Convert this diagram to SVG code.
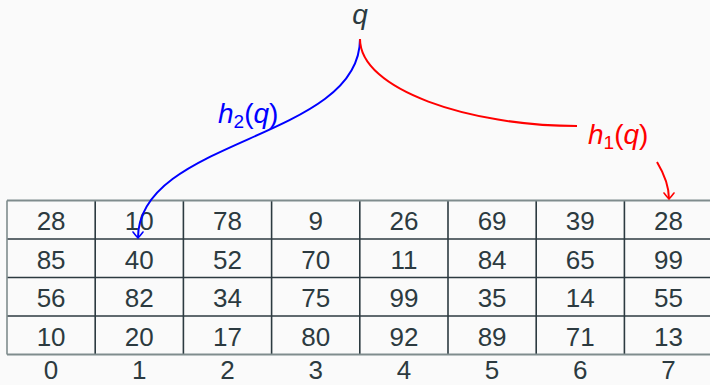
<svg xmlns="http://www.w3.org/2000/svg" width="710" height="385" viewBox="0 0 710 385">
<defs>
<style>
.num{font-family:"Liberation Sans",Arial,sans-serif;font-size:26px;fill:#2c3a40;text-anchor:middle}
.math{font-family:"Liberation Sans",Arial,sans-serif;font-size:28px}
.it{font-style:italic}
.sub{font-size:19px}
.hline{stroke:#2c3a40;stroke-width:1.3}
.border{stroke:#7f8c8d;stroke-width:2}
.vline{stroke:#2c3a40;stroke-width:1.6}
.conn{fill:none;stroke-width:2}
</style>
<marker id="arrB" markerUnits="userSpaceOnUse" markerWidth="14" markerHeight="14" viewBox="-8 -7 10 14" refX="0" refY="0" orient="auto">
<path d="M -6 -5 Q -1.5 -1.5 0 0 Q -1.5 1.5 -6 5" fill="none" stroke="#0000ff" stroke-width="1.6" stroke-linecap="round"/>
</marker>
<marker id="arrR" markerUnits="userSpaceOnUse" markerWidth="14" markerHeight="14" viewBox="-8 -7 10 14" refX="0" refY="0" orient="auto">
<path d="M -6 -5 Q -1.5 -1.5 0 0 Q -1.5 1.5 -6 5" fill="none" stroke="#ff0000" stroke-width="1.6" stroke-linecap="round"/>
</marker>
</defs>
<rect width="710" height="385" fill="#fafafa"/>

<g id="table">
<g id="grid">
<line class="hline" x1="7" y1="239" x2="712" y2="239"/>
<line class="hline" x1="7" y1="277.5" x2="712" y2="277.5"/>
<line class="hline" x1="7" y1="316" x2="712" y2="316"/>
<line class="vline" x1="95.2" y1="200.5" x2="95.2" y2="354.5"/>
<line class="vline" x1="183.4" y1="200.5" x2="183.4" y2="354.5"/>
<line class="vline" x1="271.6" y1="200.5" x2="271.6" y2="354.5"/>
<line class="vline" x1="359.8" y1="200.5" x2="359.8" y2="354.5"/>
<line class="vline" x1="448" y1="200.5" x2="448" y2="354.5"/>
<line class="vline" x1="536.2" y1="200.5" x2="536.2" y2="354.5"/>
<line class="vline" x1="624.4" y1="200.5" x2="624.4" y2="354.5"/>
<line class="border" x1="7" y1="200.5" x2="712" y2="200.5"/>
<line class="border" x1="7" y1="354.5" x2="712" y2="354.5"/>
<line class="border" x1="7" y1="200.5" x2="7" y2="354.5" style="stroke-width:1.6"/>
</g>
<g id="row0">
<text class="num" x="51.1" y="230">28</text><text class="num" x="139.3" y="230">10</text><text class="num" x="227.5" y="230">78</text><text class="num" x="315.7" y="230">9</text><text class="num" x="403.9" y="230">26</text><text class="num" x="492.1" y="230">69</text><text class="num" x="580.3" y="230">39</text><text class="num" x="668.5" y="230">28</text>
</g>
<g id="row1">
<text class="num" x="51.1" y="268.5">85</text><text class="num" x="139.3" y="268.5">40</text><text class="num" x="227.5" y="268.5">52</text><text class="num" x="315.7" y="268.5">70</text><text class="num" x="403.9" y="268.5">11</text><text class="num" x="492.1" y="268.5">84</text><text class="num" x="580.3" y="268.5">65</text><text class="num" x="668.5" y="268.5">99</text>
</g>
<g id="row2">
<text class="num" x="51.1" y="307">56</text><text class="num" x="139.3" y="307">82</text><text class="num" x="227.5" y="307">34</text><text class="num" x="315.7" y="307">75</text><text class="num" x="403.9" y="307">99</text><text class="num" x="492.1" y="307">35</text><text class="num" x="580.3" y="307">14</text><text class="num" x="668.5" y="307">55</text>
</g>
<g id="row3">
<text class="num" x="51.1" y="345.5">10</text><text class="num" x="139.3" y="345.5">20</text><text class="num" x="227.5" y="345.5">17</text><text class="num" x="315.7" y="345.5">80</text><text class="num" x="403.9" y="345.5">92</text><text class="num" x="492.1" y="345.5">89</text><text class="num" x="580.3" y="345.5">71</text><text class="num" x="668.5" y="345.5">13</text>
</g>
<g id="indices">
<text class="num" x="51.1" y="379">0</text><text class="num" x="139.3" y="379">1</text><text class="num" x="227.5" y="379">2</text><text class="num" x="315.7" y="379">3</text><text class="num" x="403.9" y="379">4</text><text class="num" x="492.1" y="379">5</text><text class="num" x="580.3" y="379">6</text><text class="num" x="668.5" y="379">7</text>
</g>
</g>

<g id="q">
<text class="math it" x="360" y="24" text-anchor="middle" fill="#2c3a40">q</text>
</g>
<g id="h2">
<text class="math" x="218" y="123" fill="#0000ff"><tspan class="it">h</tspan><tspan class="sub" dy="5">2</tspan><tspan dy="-5">(</tspan><tspan class="it">q</tspan><tspan>)</tspan></text>
</g>
<g id="h1">
<text class="math" x="588" y="144" fill="#ff0000"><tspan class="it">h</tspan><tspan class="sub" dy="5">1</tspan><tspan dy="-5">(</tspan><tspan class="it">q</tspan><tspan>)</tspan></text>
</g>

<g id="connectors">
<path class="conn" stroke="#0000ff" d="M 360 39 C 360 140 138 138 138 238" marker-end="url(#arrB)"/>
<path class="conn" stroke="#ff0000" d="M 360 39 C 360 90 470 126 577 126"/>
<path class="conn" stroke="#ff0000" d="M 657 162 C 663 172 669 185 669 199" marker-end="url(#arrR)"/>
</g>
</svg>
